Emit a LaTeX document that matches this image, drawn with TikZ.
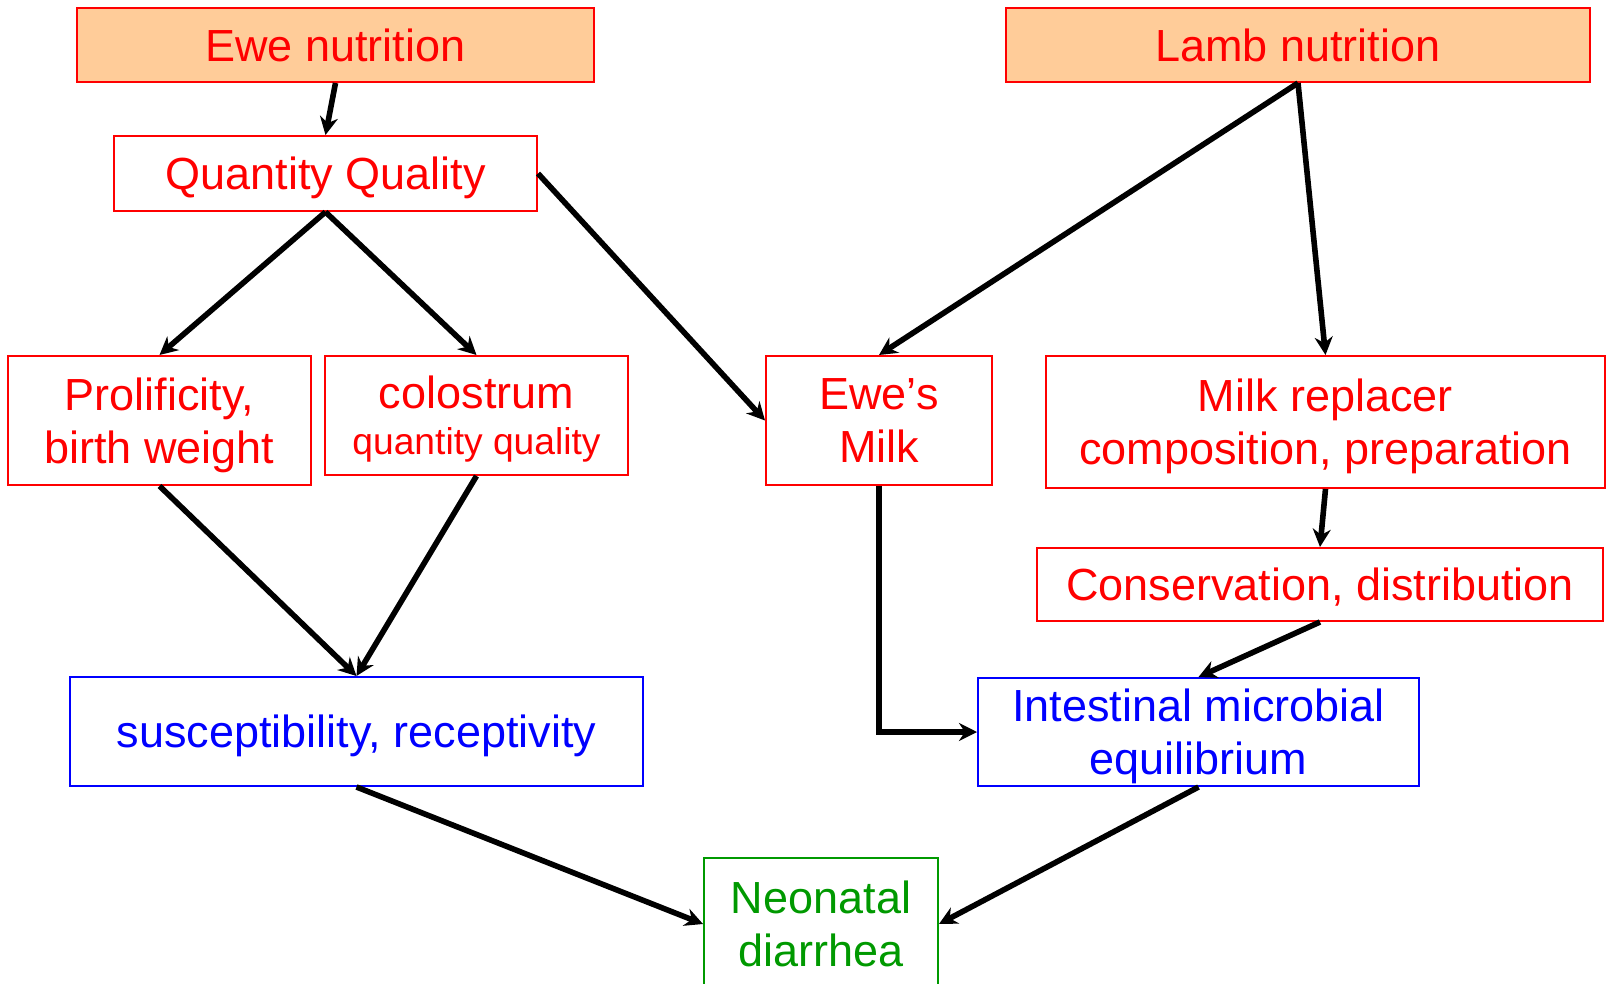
\documentclass[tikz,border=0pt]{standalone}
\usepackage{fontspec}
\setmainfont{Liberation Sans}
\usetikzlibrary{arrows.meta}
\usetikzlibrary{positioning}
\definecolor{BoxRed}{HTML}{FF0000}
\definecolor{BoxBlue}{HTML}{0000FF}
\definecolor{BoxGreen}{HTML}{009900}
\definecolor{NiceOrange}{HTML}{FFCC99}

\begin{document}
\begin{tikzpicture}[x=0.5pt,y=-0.5pt,
    box/.style={draw=BoxRed,text=BoxRed,line width=1pt,align=center,inner sep=0pt,
      text depth=0pt,font=\fontsize{22.5}{26.5}\selectfont},
    bluebox/.style={box,draw=BoxBlue,text=BoxBlue},
    greenbox/.style={box,draw=BoxGreen,text=BoxGreen},
    arr/.style={line width=2.8pt,-{Stealth[length=9pt,width=9pt]}}]
  \useasboundingbox (0,0) rectangle (1611,984);

  \node[box,fill=NiceOrange,minimum width=258.5pt,minimum height=37pt] (ewe) at (335.5,45) {Ewe nutrition};
  \node[box,fill=NiceOrange,minimum width=292pt,minimum height=37pt] (lamb) at (1298,45) {Lamb nutrition};
  \node[box,minimum width=211.5pt,minimum height=37.5pt] (qq) at (325.5,173.5) {Quantity Quality};

  \node[box,minimum width=151.5pt,minimum height=64.5pt] (prol) at (159.5,420.5) {Prolificity,\\birth weight};
  \node[box,minimum width=151.5pt,minimum height=59.5pt] (colo) at (476.5,415.5)
    {colostrum\\[-3.5pt]{\fontsize{18.6}{22}\selectfont quantity quality}};
  \node[box,minimum width=113pt,minimum height=64.5pt] (milk) at (879,420.5) {Ewe’s\\Milk};
  \node[box,minimum width=279.5pt,minimum height=66pt] (repl) at (1325.5,422) {Milk replacer\\composition, preparation};
  \node[box,minimum width=283pt,minimum height=36.5pt] (cons) at (1320,584.5) {Conservation, distribution};

  \node[bluebox,minimum width=286.5pt,minimum height=54.5pt] (susc) at (356.5,731.5) {susceptibility, receptivity};
  \node[bluebox,minimum width=220.5pt,minimum height=54pt] (intes) at (1198.5,732) {Intestinal microbial\\equilibrium};
  \node[greenbox,minimum width=117pt,minimum height=66pt] (neo) at (821,924) {Neonatal\\diarrhea};

  \draw[arr] (ewe.south) -- (qq.north);
  \draw[arr] (qq.south) -- (prol.north);
  \draw[arr] (qq.south) -- (colo.north);
  \draw[arr] (qq.east) -- (milk.west);
  \draw[arr] (lamb.south) -- (milk.north);
  \draw[arr] (lamb.south) -- (repl.north);
  \draw[arr] (prol.south) -- (susc.north);
  \draw[arr] (colo.south) -- (susc.north);
  \draw[arr] (milk.south) |- (intes.west);
  \draw[arr] (repl.south) -- (cons.north);
  \draw[arr] (cons.south) -- (intes.north);
  \draw[arr] (susc.south) -- (neo.west);
  \draw[arr] (intes.south) -- (neo.east);
\end{tikzpicture}
\end{document}
